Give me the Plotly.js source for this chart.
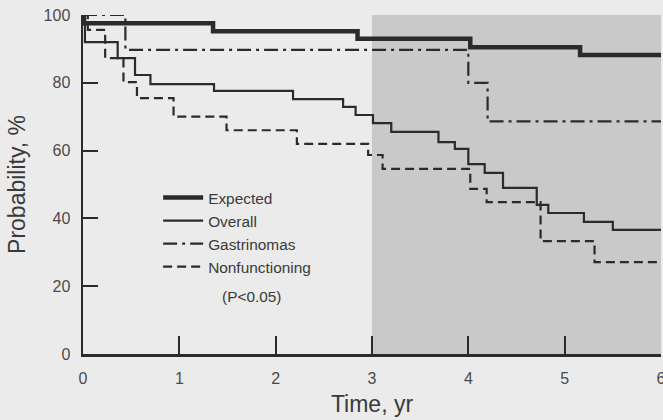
<!DOCTYPE html>
<html>
<head>
<meta charset="utf-8">
<script src="https://cdn.plot.ly/plotly-3.0.1.min.js"></script>
<style>html,body{margin:0;padding:0;background:#ebebeb;}#chart{width:663px;height:420px;}</style>
</head>
<body>
<div id="chart"></div>
<script>
// Data (Time in years, Probability in %)
const expectedTime = [0, 0.01, 1.35, 2.85, 4.02, 5.16, 6];
const expectedProb = [100, 97.6, 95.2, 93.0, 90.5, 88.2, 88.2];

const overallTime = [0, 0.02, 0.36, 0.54, 0.70, 1.36, 2.18, 2.70, 2.83, 3.01, 3.20, 3.69, 3.86, 4.00, 4.17, 4.36, 4.71, 4.83, 5.20, 5.50, 6];
const overallProb = [100, 92.0, 87.3, 82.3, 79.6, 77.6, 75.2, 72.9, 70.5, 68.1, 65.5, 62.5, 60.5, 56.0, 53.4, 49.0, 44.0, 41.6, 39.0, 36.6, 36.6];

const gastrinomaTime = [0, 0.44, 4.00, 4.20, 6];
const gastrinomaProb = [100, 89.7, 80.0, 68.6, 68.6];

const nonfunctioningTime = [0, 0.05, 0.23, 0.42, 0.56, 0.94, 1.49, 2.22, 2.96, 3.11, 4.02, 4.19, 4.75, 5.31, 6];
const nonfunctioningProb = [100, 95.6, 87.3, 80.2, 75.5, 70.0, 66.0, 62.0, 58.7, 54.6, 48.7, 44.8, 33.3, 27.1, 27.1];

const seriesNames = ["Expected", "Overall", "Gastrinomas", "Nonfunctioning"];
const xTicks = [0, 1, 2, 3, 4, 5, 6];
const yTicks = [0, 20, 40, 60, 80, 100];
const shadedSpan = [3, 6];
const noteText = "(P<0.05)";

const ink = "#2b2b2b";
const traces = [
  {x: expectedTime, y: expectedProb, name: seriesNames[0], mode: "lines",
   line: {shape: "hv", color: ink, width: 4.5}},
  {x: overallTime, y: overallProb, name: seriesNames[1], mode: "lines",
   line: {shape: "hv", color: ink, width: 2.2}},
  {x: gastrinomaTime, y: gastrinomaProb, name: seriesNames[2], mode: "lines",
   line: {shape: "hv", color: ink, width: 2.2, dash: "14px,5px,3px,5px"}},
  {x: nonfunctioningTime, y: nonfunctioningProb, name: seriesNames[3], mode: "lines",
   line: {shape: "hv", color: ink, width: 2.2, dash: "9px,5px"}}
];

const fam = "Liberation Sans, Arial, sans-serif";
const tickFont = {family: fam, size: 16, color: "#4a4a4a"};
const layout = {
  width: 663, height: 420,
  margin: {l: 83, r: 2, t: 15, b: 66},
  paper_bgcolor: "#ebebeb",
  plot_bgcolor: "#ebebeb",
  showlegend: true,
  legend: {x: 0.13, y: 0.51, xanchor: "left", yanchor: "top",
           bgcolor: "rgba(0,0,0,0)", itemwidth: 40,
           font: {family: fam, size: 15.4, color: "#3a3a3a"},
           tracegroupgap: 0},
  xaxis: {range: [0, 6], tickvals: xTicks, ticktext: xTicks.map(String),
          showgrid: false, zeroline: false, showline: true, linecolor: ink, linewidth: 2.5,
          ticks: "inside", ticklen: 18, tickwidth: 2, tickcolor: ink,
          tickfont: tickFont, fixedrange: true, ticklabeloverflow: "allow",
          ticklabelstandoff: 8,
          title: {text: "Time, yr", font: {family: fam, size: 23, color: "#3a3a3a"}, standoff: 10}},
  yaxis: {range: [0, 100], tickvals: yTicks, ticktext: yTicks.map(String),
          showgrid: false, zeroline: false, showline: true, linecolor: ink, linewidth: 2.5,
          ticks: "inside", ticklen: 15, tickwidth: 2, tickcolor: ink,
          tickfont: tickFont, fixedrange: true, ticklabelstandoff: 7,
          title: {text: "Probability, %", font: {family: fam, size: 23, color: "#3a3a3a"}, standoff: 12}},
  shapes: [{type: "rect", xref: "x", yref: "y", x0: shadedSpan[0], x1: shadedSpan[1], y0: 0, y1: 100,
            fillcolor: "#c9c9c9", line: {width: 0}, layer: "below"}],
  annotations: [{text: noteText, xref: "paper", yref: "paper", x: 0.237, y: 0.14,
                 showarrow: false, font: {family: fam, size: 15.4, color: "#3a3a3a"}}]
};

Plotly.newPlot("chart", traces, layout, {displayModeBar: false, staticPlot: true});
</script>
</body>
</html>
